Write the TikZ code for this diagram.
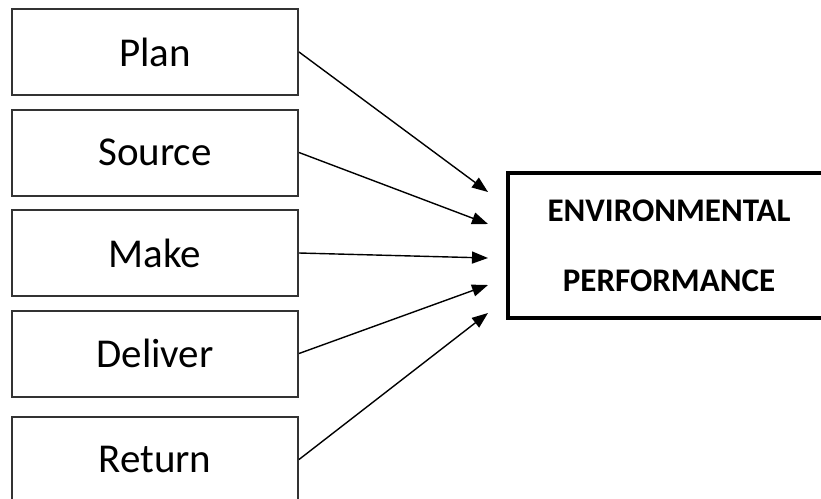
\documentclass[tikz,border=0pt]{standalone}
\usepackage{fontspec}
\setmainfont{Carlito}
\usetikzlibrary{positioning, arrows.meta}

\tikzset{
  stage/.style={draw=black!80, line width=2pt, minimum width=286pt, minimum height=86pt,
    inner sep=0pt, font=\fontsize{41}{48}\selectfont},
  result/.style={draw, line width=4.5pt, minimum width=322pt, minimum height=145pt,
    align=center, font=\fontsize{33}{70}\selectfont\bfseries},
  link/.style={line width=1.4pt, -{Triangle[length=16pt,width=12pt]}}
}

\begin{document}
\begin{tikzpicture}[x=1pt, y=-1pt, node distance=12.5pt]
  \useasboundingbox (0,0) rectangle (821,498);
  \node [stage] (plan) at (155,52) {Plan};
  \node [stage, below = of plan] (source) {Source};
  \node [stage, below = of source] (make) {Make};
  \node [stage, below = of make] (deliver) {Deliver};
  \node [stage, below = 18pt of deliver] (return) {Return};
  \node [result] (env) at (669,245.5) {ENVIRONMENTAL\\PERFORMANCE};
  \coordinate (t1) at (488,192);
  \coordinate (t2) at (488,224);
  \coordinate (t3) at (488,258);
  \coordinate (t4) at (488,285);
  \coordinate (t5) at (488,313);
  \draw [link] (plan.east) -- (t1);
  \draw [link] (source.east) -- (t2);
  \draw [link] (make.east) -- (t3);
  \draw [link] (deliver.east) -- (t4);
  \draw [link] (return.east) -- (t5);
\end{tikzpicture}
\end{document}
